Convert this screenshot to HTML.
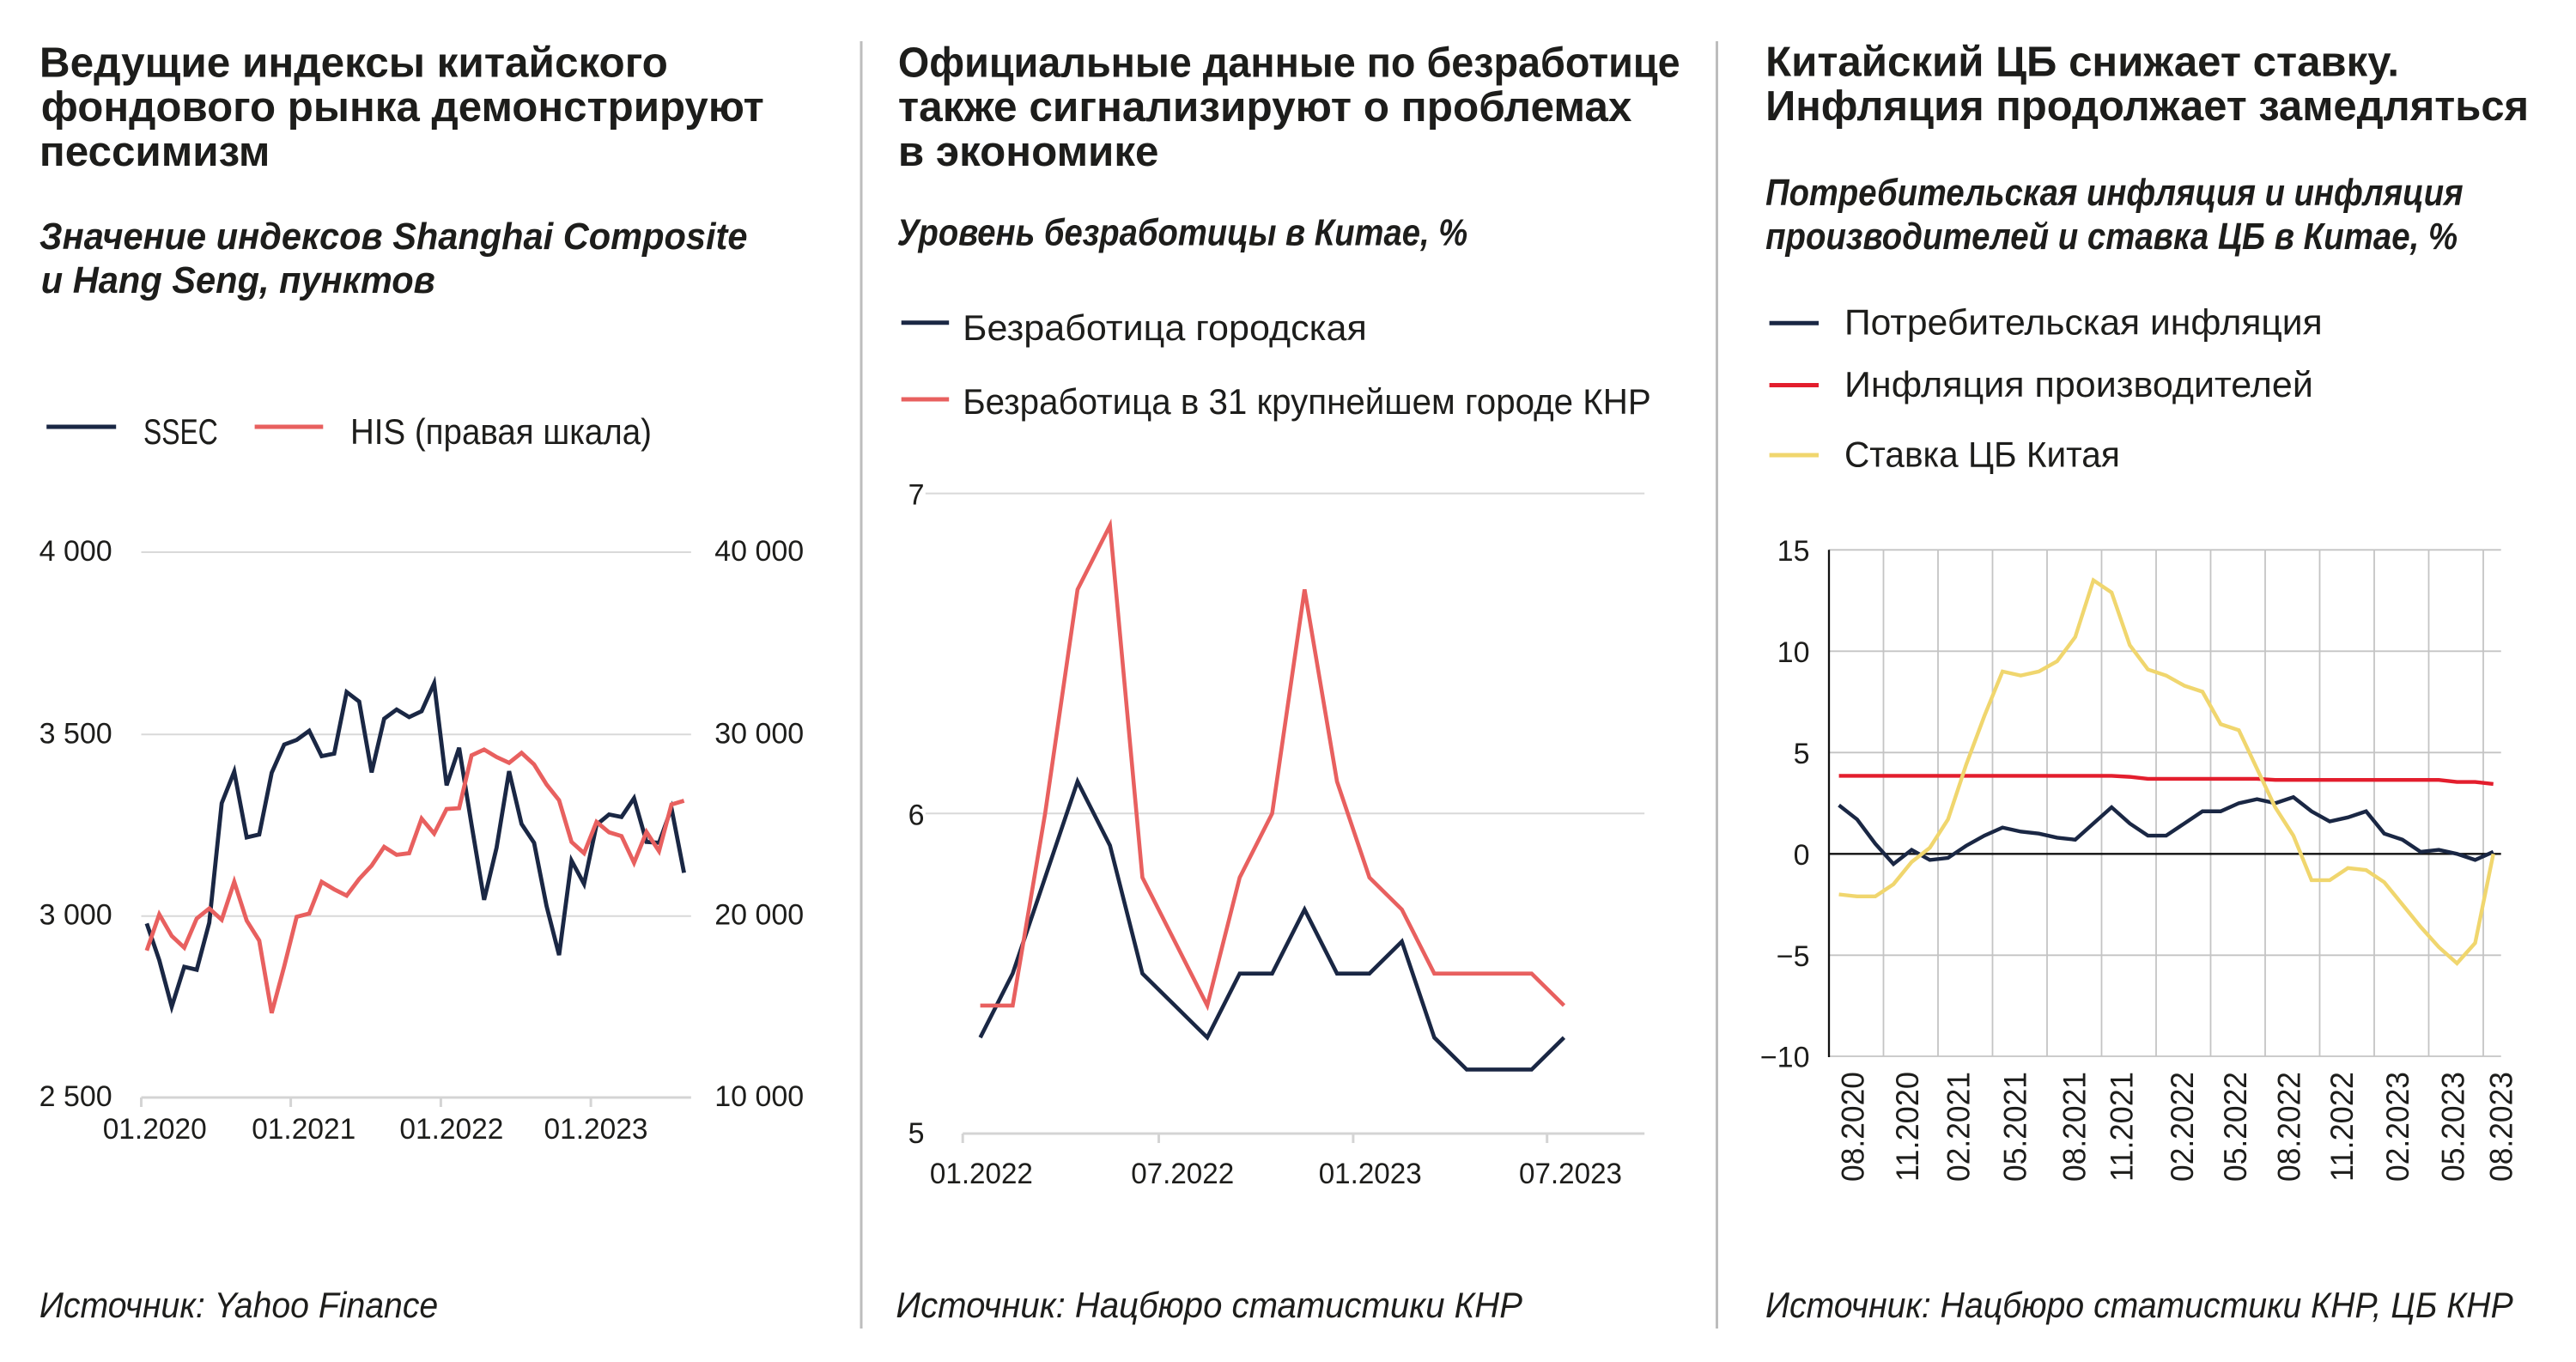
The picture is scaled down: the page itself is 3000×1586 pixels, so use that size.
<!DOCTYPE html>
<html>
<head>
<meta charset="utf-8">
<style>
html,body{margin:0;padding:0;background:#fff;}
body{width:3000px;height:1586px;overflow:hidden;}
svg{display:block;}
text{font-family:"Liberation Sans",sans-serif;fill:#1d1d1b;}
.t{font-weight:bold;font-size:49px;}
.s{font-weight:bold;font-style:italic;font-size:44px;}
.l{font-size:42px;}
.a{font-size:34px;}
.src{font-style:italic;font-size:42px;}
.ns{vector-effect:non-scaling-stroke;fill:none;}
</style>
</head>
<body>
<svg width="3000" height="1586" viewBox="0 0 3000 1586" xmlns="http://www.w3.org/2000/svg">
<rect width="3000" height="1586" fill="#fff"/>

<!-- dividers -->
<line x1="1003" y1="48" x2="1003" y2="1547" stroke="#bdbdbd" stroke-width="3"/>
<line x1="1999.5" y1="48" x2="1999.5" y2="1547" stroke="#bdbdbd" stroke-width="3"/>

<!-- ===== Chart 1 ===== -->
<text class="t" x="45.9" y="89.5" textLength="732" lengthAdjust="spacingAndGlyphs">Ведущие индексы китайского</text>
<text class="t" x="47.8" y="141" textLength="842" lengthAdjust="spacingAndGlyphs">фондового рынка демонстрируют</text>
<text class="t" x="45.9" y="193" textLength="268.5" lengthAdjust="spacingAndGlyphs">пессимизм</text>
<text class="s" x="45.9" y="290" textLength="824.6" lengthAdjust="spacingAndGlyphs">Значение индексов Shanghai Composite</text>
<text class="s" x="47.8" y="341" textLength="459" lengthAdjust="spacingAndGlyphs">и Hang Seng, пунктов</text>

<line x1="54.2" y1="497" x2="135.2" y2="497" stroke="#1a2744" stroke-width="5"/>
<text class="l" x="167" y="517" textLength="86.8" lengthAdjust="spacingAndGlyphs">SSEC</text>
<line x1="296.6" y1="497" x2="376.3" y2="497" stroke="#e8605f" stroke-width="5"/>
<text class="l" x="408" y="517" textLength="351" lengthAdjust="spacingAndGlyphs">HIS (правая шкала)</text>

<g stroke="#d9d9d9" stroke-width="2">
<line x1="164.5" y1="643" x2="804.8" y2="643"/>
<line x1="164.5" y1="855.3" x2="804.8" y2="855.3"/>
<line x1="164.5" y1="1066.7" x2="804.8" y2="1066.7"/>
</g>
<g stroke="#d4d4d4" stroke-width="3">
<line x1="164.5" y1="1278" x2="804.8" y2="1278"/>
<line x1="164.5" y1="1278" x2="164.5" y2="1289"/>
<line x1="338.6" y1="1278" x2="338.6" y2="1289"/>
<line x1="513.4" y1="1278" x2="513.4" y2="1289"/>
<line x1="688.1" y1="1278" x2="688.1" y2="1289"/>
</g>
<g class="a" text-anchor="end">
<text x="130.7" y="653">4 000</text>
<text x="130.7" y="865.3">3 500</text>
<text x="130.7" y="1076.7">3 000</text>
<text x="130.7" y="1288">2 500</text>
<text x="936.2" y="653">40 000</text>
<text x="936.2" y="865.3">30 000</text>
<text x="936.2" y="1076.7">20 000</text>
<text x="936.2" y="1288">10 000</text>
</g>
<g class="a" text-anchor="middle">
<text x="180.2" y="1326" textLength="121" lengthAdjust="spacingAndGlyphs">01.2020</text>
<text x="353.7" y="1326" textLength="121" lengthAdjust="spacingAndGlyphs">01.2021</text>
<text x="525.9" y="1326" textLength="121" lengthAdjust="spacingAndGlyphs">01.2022</text>
<text x="694" y="1326" textLength="121" lengthAdjust="spacingAndGlyphs">01.2023</text>
</g>
<polyline fill="none" stroke="#1a2744" stroke-width="4.8" stroke-linejoin="miter" points="170.9,1075.4 185.5,1118.1 200.0,1172.3 214.6,1125.8 229.1,1129.2 243.7,1074.4 258.2,935.3 272.8,898.5 287.3,975.1 301.9,971.7 316.4,899.9 331.0,867.0 345.5,861.6 360.1,851.0 374.6,880.5 389.2,877.6 403.7,805.9 418.3,817.0 432.8,899.4 447.4,836.9 461.9,826.2 476.5,835.0 491.0,828.2 505.6,795.7 520.1,914.5 534.7,870.8 549.2,960.5 563.8,1047.8 578.3,987.2 592.9,898.0 607.4,959.5 622.0,981.4 636.5,1055.0 651.1,1112.2 665.6,1002.2 680.2,1029.3 694.7,960.5 709.3,948.4 723.8,951.3 738.4,929.5 752.9,980.4 767.5,981.4 782.0,941.1 796.6,1016.3"/>
<polyline fill="none" stroke="#e8605f" stroke-width="4.8" stroke-linejoin="miter" points="170.9,1106.9 185.5,1064.7 200.0,1089.9 214.6,1103.5 229.1,1069.6 243.7,1057.9 258.2,1071.0 272.8,1026.9 287.3,1072.0 301.9,1095.3 316.4,1179.6 331.0,1125.3 345.5,1067.6 360.1,1063.8 374.6,1026.9 389.2,1035.6 403.7,1042.9 418.3,1023.5 432.8,1008.0 447.4,986.2 461.9,995.4 476.5,993.5 491.0,953.2 505.6,970.7 520.1,942.1 534.7,941.1 549.2,879.6 563.8,872.8 578.3,881.5 592.9,888.3 607.4,876.7 622.0,890.2 636.5,913.5 651.1,931.9 665.6,980.4 680.2,993.5 694.7,957.1 709.3,969.2 723.8,973.6 738.4,1004.6 752.9,968.8 767.5,991.1 782.0,936.8 796.6,932.4"/>
<text class="src" x="45.9" y="1534" textLength="464.3" lengthAdjust="spacingAndGlyphs">Источник: Yahoo Finance</text>

<!-- ===== Chart 2 ===== -->
<text class="t" x="1045.9" y="89.5" textLength="910.7" lengthAdjust="spacingAndGlyphs">Официальные данные по безработице</text>
<text class="t" x="1045.9" y="141" textLength="854.6" lengthAdjust="spacingAndGlyphs">также сигнализируют о проблемах</text>
<text class="t" x="1045.9" y="193" textLength="303.6" lengthAdjust="spacingAndGlyphs">в экономике</text>
<text class="s" x="1044.6" y="285.5" textLength="664.6" lengthAdjust="spacingAndGlyphs">Уровень безработицы в Китае, %</text>

<line x1="1049.7" y1="375.7" x2="1105.2" y2="375.7" stroke="#1a2744" stroke-width="5"/>
<text class="l" x="1121.2" y="396" textLength="470.6" lengthAdjust="spacingAndGlyphs">Безработица городская</text>
<line x1="1049.7" y1="465" x2="1105.2" y2="465" stroke="#e8605f" stroke-width="5"/>
<text class="l" x="1121.2" y="482" textLength="801.6" lengthAdjust="spacingAndGlyphs">Безработица в 31 крупнейшем городе КНР</text>

<g stroke="#d9d9d9" stroke-width="2">
<line x1="1077.8" y1="574.6" x2="1915.2" y2="574.6"/>
<line x1="1077.8" y1="947.3" x2="1915.2" y2="947.3"/>
</g>
<g stroke="#d4d4d4" stroke-width="3">
<line x1="1121.2" y1="1320" x2="1915.2" y2="1320"/>
<line x1="1121.2" y1="1320" x2="1121.2" y2="1331"/>
<line x1="1349.5" y1="1320" x2="1349.5" y2="1331"/>
<line x1="1575.9" y1="1320" x2="1575.9" y2="1331"/>
<line x1="1801.7" y1="1320" x2="1801.7" y2="1331"/>
</g>
<g class="a" text-anchor="end">
<text x="1076.5" y="587.6">7</text>
<text x="1076.5" y="960.3">6</text>
<text x="1076.5" y="1331">5</text>
</g>
<g class="a" text-anchor="middle">
<text x="1142.9" y="1378" textLength="120" lengthAdjust="spacingAndGlyphs">01.2022</text>
<text x="1377.2" y="1378" textLength="120" lengthAdjust="spacingAndGlyphs">07.2022</text>
<text x="1595.7" y="1378" textLength="120" lengthAdjust="spacingAndGlyphs">01.2023</text>
<text x="1829" y="1378" textLength="120" lengthAdjust="spacingAndGlyphs">07.2023</text>
</g>
<g transform="translate(1141.6,1320) scale(37.77,-372.7)">
<polyline class="ns" stroke="#1a2744" stroke-width="4.6" points="0,0.3 1,0.5 2,0.8 3,1.1 4,0.9 5,0.5 6,0.4 7,0.3 8,0.5 9,0.5 10,0.7 11,0.5 12,0.5 13,0.6 14,0.3 15,0.2 16,0.2 17,0.2 18,0.3"/>
<polyline class="ns" stroke="#e8605f" stroke-width="4.6" points="0,0.4 1,0.4 2,1.0 3,1.7 4,1.9 5,0.8 6,0.6 7,0.4 8,0.8 9,1.0 10,1.7 11,1.1 12,0.8 13,0.7 14,0.5 15,0.5 16,0.5 17,0.5 18,0.4"/>
</g>
<text class="src" x="1043.4" y="1534" textLength="729.6" lengthAdjust="spacingAndGlyphs">Источник: Нацбюро статистики КНР</text>

<!-- ===== Chart 3 ===== -->
<text class="t" x="2056.1" y="88.5" textLength="737.9" lengthAdjust="spacingAndGlyphs">Китайский ЦБ снижает ставку.</text>
<text class="t" x="2056.1" y="140" textLength="889" lengthAdjust="spacingAndGlyphs">Инфляция продолжает замедляться</text>
<text class="s" x="2056.1" y="239" textLength="812.5" lengthAdjust="spacingAndGlyphs">Потребительская инфляция и инфляция</text>
<text class="s" x="2056.1" y="290" textLength="806" lengthAdjust="spacingAndGlyphs">производителей и ставка ЦБ в Китае, %</text>

<line x1="2060.6" y1="376.2" x2="2118" y2="376.2" stroke="#1a2744" stroke-width="5"/>
<text class="l" x="2148" y="389.5" textLength="556.7" lengthAdjust="spacingAndGlyphs">Потребительская инфляция</text>
<line x1="2060.6" y1="448.5" x2="2118" y2="448.5" stroke="#e31e2d" stroke-width="5"/>
<text class="l" x="2148" y="462" textLength="545.9" lengthAdjust="spacingAndGlyphs">Инфляция производителей</text>
<line x1="2060.6" y1="530" x2="2118" y2="530" stroke="#f0d66e" stroke-width="5"/>
<text class="l" x="2148" y="543.5" textLength="320.8" lengthAdjust="spacingAndGlyphs">Ставка ЦБ Китая</text>

<g stroke="#c4c4c4" stroke-width="1.8">
<line x1="2130" y1="640.3" x2="2912.7" y2="640.3"/>
<line x1="2130" y1="758.3" x2="2912.7" y2="758.3"/>
<line x1="2130" y1="876.3" x2="2912.7" y2="876.3"/>
<line x1="2130" y1="1112.3" x2="2912.7" y2="1112.3"/>
<line x1="2130" y1="1230" x2="2912.7" y2="1230"/>
<line x1="2193.5" y1="640.3" x2="2193.5" y2="1230"/>
<line x1="2257" y1="640.3" x2="2257" y2="1230"/>
<line x1="2320.5" y1="640.3" x2="2320.5" y2="1230"/>
<line x1="2384" y1="640.3" x2="2384" y2="1230"/>
<line x1="2447.5" y1="640.3" x2="2447.5" y2="1230"/>
<line x1="2511" y1="640.3" x2="2511" y2="1230"/>
<line x1="2574.5" y1="640.3" x2="2574.5" y2="1230"/>
<line x1="2638" y1="640.3" x2="2638" y2="1230"/>
<line x1="2701.5" y1="640.3" x2="2701.5" y2="1230"/>
<line x1="2765" y1="640.3" x2="2765" y2="1230"/>
<line x1="2828.5" y1="640.3" x2="2828.5" y2="1230"/>
<line x1="2892" y1="640.3" x2="2892" y2="1230"/>
</g>
<line x1="2130" y1="994.3" x2="2912.7" y2="994.3" stroke="#111" stroke-width="2.3"/>
<line x1="2130" y1="640.3" x2="2130" y2="1231" stroke="#111" stroke-width="2.3"/>

<g class="a" text-anchor="end">
<text x="2107.5" y="652.8">15</text>
<text x="2107.5" y="770.8">10</text>
<text x="2107.5" y="888.8">5</text>
<text x="2107.5" y="1006.8">0</text>
<text x="2107.5" y="1124.8">−5</text>
<text x="2107.5" y="1242.5">−10</text>
</g>
<g style="font-size:37px">
<text transform="translate(2170.5,1376) rotate(-90)" textLength="128" lengthAdjust="spacingAndGlyphs">08.2020</text>
<text transform="translate(2233.8,1376) rotate(-90)" textLength="128" lengthAdjust="spacingAndGlyphs">11.2020</text>
<text transform="translate(2293.5,1376) rotate(-90)" textLength="128" lengthAdjust="spacingAndGlyphs">02.2021</text>
<text transform="translate(2359.5,1376) rotate(-90)" textLength="128" lengthAdjust="spacingAndGlyphs">05.2021</text>
<text transform="translate(2428.5,1376) rotate(-90)" textLength="128" lengthAdjust="spacingAndGlyphs">08.2021</text>
<text transform="translate(2483.5,1376) rotate(-90)" textLength="128" lengthAdjust="spacingAndGlyphs">11.2021</text>
<text transform="translate(2553.9,1376) rotate(-90)" textLength="128" lengthAdjust="spacingAndGlyphs">02.2022</text>
<text transform="translate(2616.2,1376) rotate(-90)" textLength="128" lengthAdjust="spacingAndGlyphs">05.2022</text>
<text transform="translate(2678.5,1376) rotate(-90)" textLength="128" lengthAdjust="spacingAndGlyphs">08.2022</text>
<text transform="translate(2740.2,1376) rotate(-90)" textLength="128" lengthAdjust="spacingAndGlyphs">11.2022</text>
<text transform="translate(2805.2,1376) rotate(-90)" textLength="128" lengthAdjust="spacingAndGlyphs">02.2023</text>
<text transform="translate(2869.5,1376) rotate(-90)" textLength="128" lengthAdjust="spacingAndGlyphs">05.2023</text>
<text transform="translate(2925.5,1376) rotate(-90)" textLength="128" lengthAdjust="spacingAndGlyphs">08.2023</text>
</g>

<g transform="translate(2141.6,994.3) scale(21.17,-23.6)">
<polyline class="ns" stroke="#1a2744" stroke-width="4.4" points="0,2.4 1,1.7 2,0.5 3,-0.5 4,0.2 5,-0.3 6,-0.2 7,0.4 8,0.9 9,1.3 10,1.1 11,1.0 12,0.8 13,0.7 14,1.5 15,2.3 16,1.5 17,0.9 18,0.9 19,1.5 20,2.1 21,2.1 22,2.5 23,2.7 24,2.5 25,2.8 26,2.1 27,1.6 28,1.8 29,2.1 30,1.0 31,0.7 32,0.1 33,0.2 34,0.0 35,-0.3 36,0.1"/>
<polyline class="ns" stroke="#e31e2d" stroke-width="4.4" points="0,3.85 15,3.85 16,3.80 17,3.70 23,3.70 24,3.65 33,3.65 34,3.55 35,3.55 36,3.45"/>
<polyline class="ns" stroke="#f0d66e" stroke-width="4.4" points="0,-2.0 1,-2.1 2,-2.1 3,-1.5 4,-0.4 5,0.3 6,1.7 7,4.4 8,6.8 9,9.0 10,8.8 11,9.0 12,9.5 13,10.7 14,13.5 15,12.9 16,10.3 17,9.1 18,8.8 19,8.3 20,8.0 21,6.4 22,6.1 23,4.2 24,2.3 25,0.9 26,-1.3 27,-1.3 28,-0.7 29,-0.8 30,-1.4 31,-2.5 32,-3.6 33,-4.6 34,-5.4 35,-4.4 36,0"/>
</g>
<text class="src" x="2056" y="1534" textLength="870.7" lengthAdjust="spacingAndGlyphs">Источник: Нацбюро статистики КНР, ЦБ КНР</text>
</svg>
</body>
</html>
